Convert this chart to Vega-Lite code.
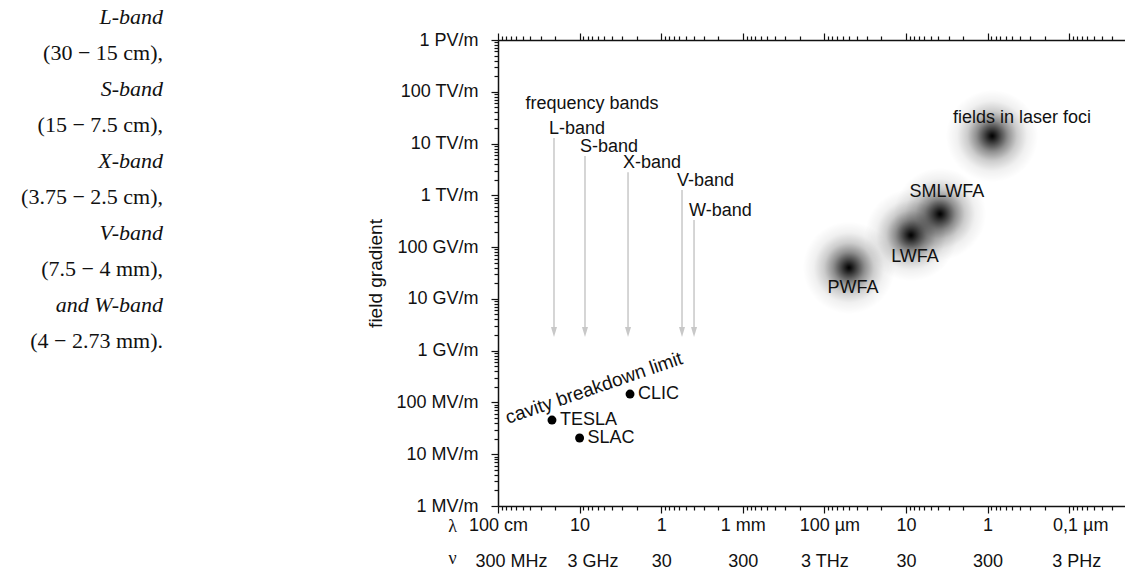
{
  "$schema": "https://vega.github.io/schema/vega-lite/v6.json",
  "padding": {"left": 5, "top": 5, "right": 0, "bottom": 0},
  "config": {"view": {"stroke": null}, "font": "Liberation Sans"},
  "spacing": 203,
  "datasets": {
    "caption": [
      {"row": 0, "kind": "band", "line": "L-band"},
      {"row": 1, "kind": "range", "line": "(30 − 15 cm),"},
      {"row": 2, "kind": "band", "line": "S-band"},
      {"row": 3, "kind": "range", "line": "(15 − 7.5 cm),"},
      {"row": 4, "kind": "band", "line": "X-band"},
      {"row": 5, "kind": "range", "line": "(3.75 − 2.5 cm),"},
      {"row": 6, "kind": "band", "line": "V-band"},
      {"row": 7, "kind": "range", "line": "(7.5 − 4 mm),"},
      {"row": 8, "kind": "band", "line": "and W-band"},
      {"row": 9, "kind": "range", "line": "(4 − 2.73 mm)."}
    ],
    "blobs": [
      {"name": "PWFA", "lam": 5.0e-5, "E": 4.0e10, "lx": 4.47e-5, "ly": 1.63e10},
      {"name": "LWFA", "lam": 8.7e-6, "E": 1.7e11, "lx": 7.76e-6, "ly": 6.44e10},
      {"name": "SMLWFA", "lam": 3.83e-6, "E": 4.36e11, "lx": 3.15e-6, "ly": 1.16e12},
      {"name": "fields in laser foci", "lam": 8.8e-7, "E": 1.4e13, "lx": 3.79e-7, "ly": 3.12e13}
    ],
    "accel": [
      {"name": "TESLA", "lam": 0.218, "E": 4.57e7},
      {"name": "SLAC", "lam": 0.1, "E": 2.06e7},
      {"name": "CLIC", "lam": 0.0241, "E": 1.45e8}
    ],
    "bands": [
      {"band": "L-band", "lam": 0.206, "top": 1.28e13, "bottom": 2.3e9},
      {"band": "S-band", "lam": 0.0859, "top": 5.75e12, "bottom": 2.3e9},
      {"band": "X-band", "lam": 0.0255, "top": 2.8e12, "bottom": 2.3e9},
      {"band": "V-band", "lam": 0.00556, "top": 1.27e12, "bottom": 2.3e9},
      {"band": "W-band", "lam": 0.00396, "top": 3.34e11, "bottom": 2.3e9}
    ],
    "notes": [
      {"note": "frequency bands", "lam": 0.0705, "E": 5.8e13},
      {"note": "cavity breakdown limit", "lam": 0.0666, "E": 1.9e8}
    ]
  },
  "hconcat": [
    {
      "width": 158,
      "height": 324,
      "data": {"name": "caption"},
      "layer": [
        {
          "transform": [{"filter": "datum.kind == 'band'"}],
          "mark": {"type": "text", "align": "right", "baseline": "middle", "font": "Liberation Serif", "fontSize": 22, "fontStyle": "italic", "color": "#111"},
          "encoding": {
            "x": {"datum": 1, "type": "quantitative", "scale": {"domain": [0, 1], "nice": false, "zero": false}, "axis": null},
            "y": {"field": "row", "type": "quantitative", "scale": {"domain": [0.64, 9.64], "reverse": true, "nice": false, "zero": false}, "axis": null},
            "text": {"field": "line"}
          }
        },
        {
          "transform": [{"filter": "datum.kind == 'range'"}],
          "mark": {"type": "text", "align": "right", "baseline": "middle", "font": "Liberation Serif", "fontSize": 22, "color": "#111"},
          "encoding": {
            "x": {"datum": 1, "type": "quantitative", "scale": {"domain": [0, 1], "nice": false, "zero": false}, "axis": null},
            "y": {"field": "row", "type": "quantitative", "scale": {"domain": [0.64, 9.64], "reverse": true, "nice": false, "zero": false}, "axis": null},
            "text": {"field": "line"}
          }
        }
      ]
    },
    {
      "width": 628,
      "height": 466,
      "resolve": {"axis": {"x": "independent", "y": "independent"}},
      "layer": [
        {
          "data": {"name": "blobs"},
          "mark": {"type": "point", "shape": "circle", "filled": true, "opacity": 1, "size": 8500, "strokeWidth": 0,
            "fill": {"gradient": "radial", "x1": 0.5, "y1": 0.5, "r1": 0, "x2": 0.5, "y2": 0.5, "r2": 0.5,
              "stops": [
                {"offset": 0, "color": "rgba(0,0,0,1)"},
                {"offset": 0.04, "color": "rgba(0,0,0,0.95)"},
                {"offset": 0.16, "color": "rgba(0,0,0,0.74)"},
                {"offset": 0.34, "color": "rgba(0,0,0,0.44)"},
                {"offset": 0.54, "color": "rgba(0,0,0,0.2)"},
                {"offset": 0.76, "color": "rgba(0,0,0,0.06)"},
                {"offset": 1, "color": "rgba(0,0,0,0)"}
              ]}},
          "encoding": {
            "x": {"field": "lam", "type": "quantitative", "scale": {"type": "log", "domain": [2.014e-8, 1], "reverse": true, "nice": false, "zero": false},
              "axis": {
                "orient": "bottom", "tickCount": 100, "grid": false,
                "labelExpr": "abs(log(datum.value)/LN10 - round(log(datum.value)/LN10)) < 0.001 ? ['100 cm','10','1','1 mm','100 µm','10','1','0,1 µm'][-round(log(datum.value)/LN10)] : ''",
                "labelOverlap": false, "labelFlush": false, "labelBound": false,
                "labelFont": "Liberation Sans", "labelFontSize": 18, "labelColor": "#111", "labelPadding": 3,
                "labelOffset": {"condition": [
                  {"test": "datum.value < 1.5e-4 && datum.value > 0.5e-4", "value": 5},
                  {"test": "datum.value < 1.5e-7", "value": 11}
                ], "value": 0},
                "tickColor": "#111", "tickWidth": 1.2,
                "tickSize": {"condition": {"test": "abs(log(datum.value)/LN10 - round(log(datum.value)/LN10)) < 0.001", "value": 7}, "value": 4},
                "domainColor": "#111", "domainWidth": 1.5,
                "title": "λ", "titleX": -46, "titleY": 20, "titleAngle": 0, "titleAlign": "center", "titleBaseline": "middle",
                "titleFont": "Liberation Serif", "titleFontSize": 18, "titleFontWeight": "normal", "titleColor": "#111"
              }},
            "y": {"field": "E", "type": "quantitative", "scale": {"type": "log", "domain": [1e6, 1e15], "nice": false, "zero": false},
              "axis": {
                "orient": "left", "tickCount": 100, "grid": false,
                "labelExpr": "abs(log(datum.value)/LN10 - round(log(datum.value)/LN10)) < 0.001 ? ['1 MV/m','10 MV/m','100 MV/m','1 GV/m','10 GV/m','100 GV/m','1 TV/m','10 TV/m','100 TV/m','1 PV/m'][round(log(datum.value)/LN10)-6] : ''",
                "labelOverlap": false, "labelFlush": false, "labelBound": false,
                "labelFont": "Liberation Sans", "labelFontSize": 18, "labelColor": "#111", "labelPadding": 13,
                "tickColor": "#111", "tickWidth": 1.2,
                "tickSize": {"condition": {"test": "abs(log(datum.value)/LN10 - round(log(datum.value)/LN10)) < 0.001", "value": 7}, "value": 4},
                "domainColor": "#111", "domainWidth": 1.5,
                "title": "field gradient", "titlePadding": 10, "titleFont": "Liberation Sans", "titleFontSize": 19, "titleFontWeight": "normal", "titleColor": "#111"
              }}
          }
        },
        {
          "data": {"name": "blobs"},
          "mark": {"type": "text", "align": "center", "baseline": "middle", "fontSize": 18, "color": "#111"},
          "encoding": {
            "x": {"field": "lx", "type": "quantitative", "scale": {"type": "log", "domain": [2.014e-8, 1], "reverse": true, "nice": false, "zero": false},
              "axis": {
                "orient": "top", "tickCount": 100, "grid": false, "labels": false, "title": null, "minExtent": 35,
                "tickColor": "#111", "tickWidth": 1.2,
                "tickSize": {"condition": {"test": "abs(log(datum.value)/LN10 - round(log(datum.value)/LN10)) < 0.001", "value": 7}, "value": 4},
                "domainColor": "#111", "domainWidth": 1.5
              }},
            "y": {"field": "ly", "type": "quantitative", "scale": {"type": "log", "domain": [1e6, 1e15], "nice": false, "zero": false}, "axis": null},
            "text": {"field": "name"}
          }
        },
        {
          "data": {"name": "bands"},
          "mark": {"type": "rule", "color": "#c8c8c8", "strokeWidth": 1.5},
          "encoding": {
            "x": {"field": "lam", "type": "quantitative", "scale": {"type": "log", "domain": [2.014e-8, 1], "reverse": true, "nice": false, "zero": false},
              "axis": {
                "orient": "bottom", "offset": 45, "values": [1, 0.1, 0.01, 0.001, 0.0001, 0.00001, 0.000001, 0.0000001],
                "ticks": false, "domain": false, "grid": false,
                "labelExpr": "['300 MHz','3 GHz','30','300','3 THz','30','300','3 PHz'][-round(log(datum.value)/LN10)]",
                "labelOverlap": false, "labelFlush": false, "labelBound": false,
                "labelFont": "Liberation Sans", "labelFontSize": 18, "labelColor": "#111", "labelPadding": 1,
                "labelOffset": {"condition": [
                  {"test": "datum.value > 0.05", "value": 13},
                  {"test": "datum.value < 1.5e-7", "value": 7}
                ], "value": 0},
                "title": "ν", "titleX": -46, "titleY": 7, "titleAngle": 0, "titleAlign": "center", "titleBaseline": "middle",
                "titleFont": "Liberation Serif", "titleFontSize": 18, "titleFontWeight": "normal", "titleColor": "#111"
              }},
            "y": {"field": "top", "type": "quantitative", "scale": {"type": "log", "domain": [1e6, 1e15], "nice": false, "zero": false}, "axis": null},
            "y2": {"field": "bottom"}
          }
        },
        {
          "data": {"name": "bands"},
          "mark": {"type": "point", "shape": "M -0.6,-1 L 0.6,-1 L 0,1 Z", "filled": true, "opacity": 1, "size": 100, "color": "#c8c8c8"},
          "encoding": {
            "x": {"field": "lam", "type": "quantitative", "scale": {"type": "log", "domain": [2.014e-8, 1], "reverse": true, "nice": false, "zero": false}, "axis": null},
            "y": {"field": "bottom", "type": "quantitative", "scale": {"type": "log", "domain": [1e6, 1e15], "nice": false, "zero": false}, "axis": null}
          }
        },
        {
          "data": {"name": "bands"},
          "mark": {"type": "text", "align": "left", "baseline": "middle", "dx": -5, "dy": -9, "fontSize": 18, "color": "#111"},
          "encoding": {
            "x": {"field": "lam", "type": "quantitative", "scale": {"type": "log", "domain": [2.014e-8, 1], "reverse": true, "nice": false, "zero": false}, "axis": null},
            "y": {"field": "top", "type": "quantitative", "scale": {"type": "log", "domain": [1e6, 1e15], "nice": false, "zero": false}, "axis": null},
            "text": {"field": "band"}
          }
        },
        {
          "data": {"name": "accel"},
          "mark": {"type": "point", "shape": "circle", "filled": true, "opacity": 1, "size": 80, "color": "#000"},
          "encoding": {
            "x": {"field": "lam", "type": "quantitative", "scale": {"type": "log", "domain": [2.014e-8, 1], "reverse": true, "nice": false, "zero": false}, "axis": null},
            "y": {"field": "E", "type": "quantitative", "scale": {"type": "log", "domain": [1e6, 1e15], "nice": false, "zero": false}, "axis": null}
          }
        },
        {
          "data": {"name": "accel"},
          "mark": {"type": "text", "align": "left", "baseline": "middle", "dx": 8, "fontSize": 18, "color": "#111"},
          "encoding": {
            "x": {"field": "lam", "type": "quantitative", "scale": {"type": "log", "domain": [2.014e-8, 1], "reverse": true, "nice": false, "zero": false}, "axis": null},
            "y": {"field": "E", "type": "quantitative", "scale": {"type": "log", "domain": [1e6, 1e15], "nice": false, "zero": false}, "axis": null},
            "text": {"field": "name"}
          }
        },
        {
          "data": {"name": "notes"},
          "transform": [{"filter": "datum.note == 'frequency bands'"}],
          "mark": {"type": "text", "align": "center", "baseline": "middle", "fontSize": 18, "color": "#111"},
          "encoding": {
            "x": {"field": "lam", "type": "quantitative", "scale": {"type": "log", "domain": [2.014e-8, 1], "reverse": true, "nice": false, "zero": false}, "axis": null},
            "y": {"field": "E", "type": "quantitative", "scale": {"type": "log", "domain": [1e6, 1e15], "nice": false, "zero": false}, "axis": null},
            "text": {"field": "note"}
          }
        },
        {
          "data": {"name": "notes"},
          "transform": [{"filter": "datum.note == 'cavity breakdown limit'"}],
          "mark": {"type": "text", "align": "center", "baseline": "middle", "angle": 341, "fontSize": 19, "color": "#111"},
          "encoding": {
            "x": {"field": "lam", "type": "quantitative", "scale": {"type": "log", "domain": [2.014e-8, 1], "reverse": true, "nice": false, "zero": false}, "axis": null},
            "y": {"field": "E", "type": "quantitative", "scale": {"type": "log", "domain": [1e6, 1e15], "nice": false, "zero": false}, "axis": null},
            "text": {"field": "note"}
          }
        }
      ]
    }
  ]
}
